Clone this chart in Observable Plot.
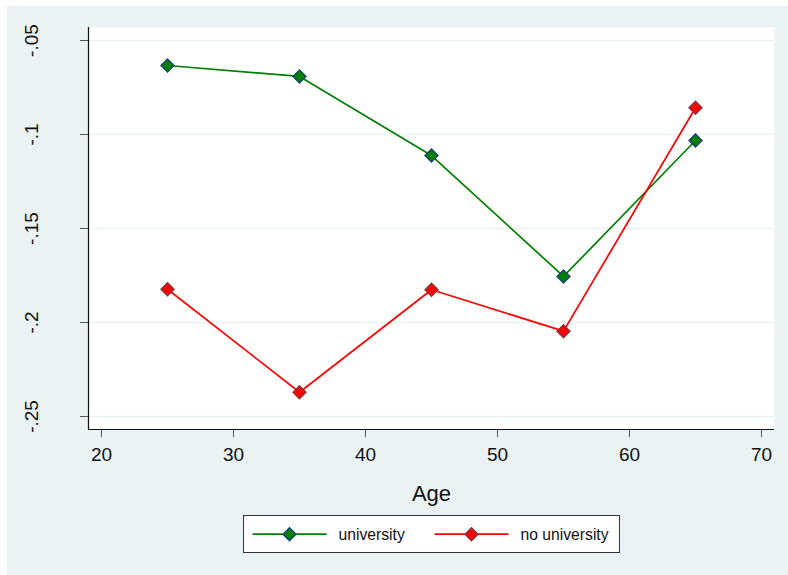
<!DOCTYPE html>
<html>
<head>
<meta charset="utf-8">
<script src="https://cdn.jsdelivr.net/npm/d3@7"></script>
<script src="https://cdn.jsdelivr.net/npm/@observablehq/plot@0.6"></script>
<style>
  html, body { margin: 0; padding: 0; background: #ffffff; }
  body { width: 788px; height: 575px; position: relative; overflow: hidden; font-family: "Liberation Sans", Arial, sans-serif; }
  #region { position: absolute; left: 7px; top: 6px; width: 781px; height: 569px; background: #eaf2f3; }
  #chart { position: absolute; left: 0; top: 0; }
  #legend { position: absolute; left: 236px; top: 509px; }
</style>
</head>
<body>
<div id="region">
  <div id="chart"></div>
  <div id="legend"></div>
</div>
<script>
// ---- data ----
const ages = [25, 35, 45, 55, 65];
const university = [-0.0633, -0.0691, -0.1112, -0.1755, -0.1032];
const noUniversity = [-0.1823, -0.2371, -0.1826, -0.2046, -0.0858];
const seriesNames = ["university", "no university"];
const xTicks = [20, 30, 40, 50, 60, 70];
const yTicks = [-0.25, -0.2, -0.15, -0.1, -0.05];
const yTickLabels = ["-.25", "-.2", "-.15", "-.1", "-.05"];
const xLabel = "Age";

// ---- styles ----
const colors = { "university": "#008000", "no university": "#ff0000" };
const markerStroke = { "university": "#1a476f", "no university": "#90353b" };
const bg = "#eaf2f3";
const font = "'Liberation Sans', Arial, sans-serif";

const rows = [];
ages.forEach((a, i) => rows.push({ age: a, value: university[i], series: seriesNames[0] }));
ages.forEach((a, i) => rows.push({ age: a, value: noUniversity[i], series: seriesNames[1] }));

const xDomain = [19.015, 70.985];
const yDomain = [-0.256915, -0.043085];

const chart = Plot.plot({
  width: 781,
  height: 505,
  marginLeft: 81,
  marginRight: 14,
  marginTop: 21,
  marginBottom: 82,
  style: { background: "transparent", fontFamily: font, color: "#111" },
  x: { domain: xDomain, axis: null },
  y: { domain: yDomain, axis: null },
  marks: [
    Plot.frame({ fill: "white", stroke: null }),
    Plot.ruleY(yTicks, { stroke: bg, strokeWidth: 1.6 }),
    Plot.axisX(xTicks, { tickSize: 8, tickPadding: 10, fontSize: 19, label: null, stroke: "#555", fill: "#111" }),
    Plot.axisY(yTicks, { tickSize: 8, tickFormat: () => "", label: null, stroke: "#555" }),
    Plot.ruleX([xDomain[0]], { stroke: "#111", strokeWidth: 1.2 }),
    Plot.ruleY([yDomain[0]], { stroke: "#111", strokeWidth: 1.2 }),
    Plot.text(yTicks, {
      y: d => d, text: (d, i) => yTickLabels[i], frameAnchor: "left", dx: -51,
      rotate: -90, lineAnchor: "bottom", textAnchor: "middle", fontSize: 19, fill: "#111"
    }),
    Plot.text([xLabel], { text: d => d, frameAnchor: "bottom", dy: 64, lineAnchor: "middle", fontSize: 22, fill: "#111" }),
    Plot.line(rows, { x: "age", y: "value", z: "series", stroke: d => colors[d.series], strokeWidth: 1.7 }),
    Plot.dot(rows, { x: "age", y: "value", symbol: "diamond2", r: 5.8,
      fill: d => colors[d.series], stroke: d => markerStroke[d.series], strokeWidth: 1.5 })
  ]
});
document.getElementById("chart").appendChild(chart);

// ---- legend ----
const lw = 376, lh = 37;
const lsvg = d3.select("#legend").append("svg")
  .attr("width", lw + 2).attr("height", lh + 2)
  .style("font-family", font);
lsvg.append("rect").attr("x", 0.5).attr("y", 0.5).attr("width", lw).attr("height", lh)
  .attr("fill", "white").attr("stroke", "#333").attr("stroke-width", 1);
const entries = [
  { name: seriesNames[0], x0: 9.5, tx: 95.5 },
  { name: seriesNames[1], x0: 191.5, tx: 277.5 }
];
const sym = d3.symbol(d3.symbolDiamond2, Math.PI * 5.8 * 5.8);
entries.forEach(e => {
  lsvg.append("line").attr("x1", e.x0).attr("x2", e.x0 + 74).attr("y1", 19.2).attr("y2", 19.2)
    .attr("stroke", colors[e.name]).attr("stroke-width", 1.7);
  lsvg.append("path").attr("d", sym()).attr("transform", `translate(${e.x0 + 37},19.2)`)
    .attr("fill", colors[e.name]).attr("stroke", markerStroke[e.name]).attr("stroke-width", 1.5);
  lsvg.append("text").attr("x", e.tx).attr("y", 24.5).attr("font-size", 15.7).attr("fill", "#111").text(e.name);
});
</script>
</body>
</html>
